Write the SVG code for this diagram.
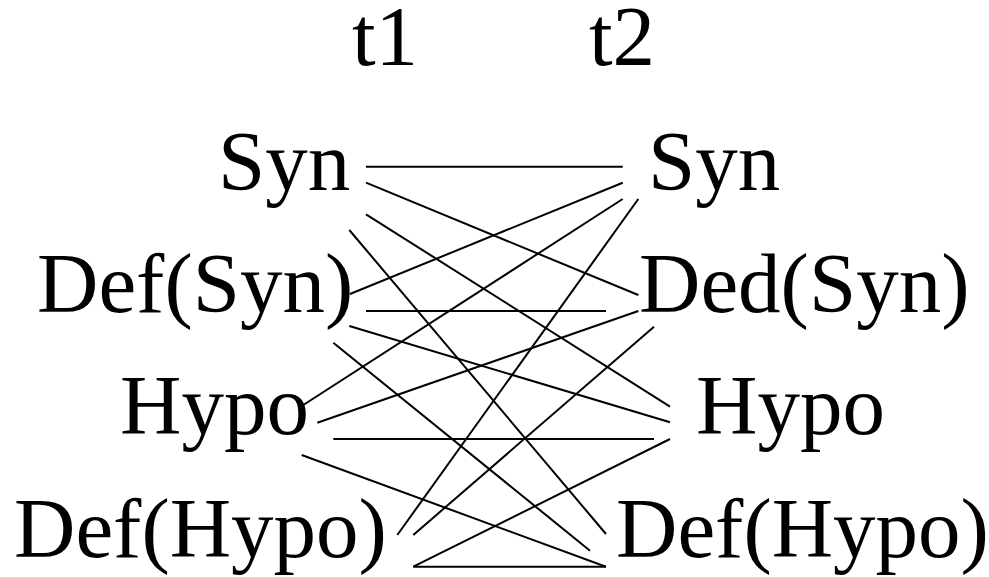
<svg xmlns="http://www.w3.org/2000/svg" width="989" height="577" viewBox="0 0 989 577">
<style>
text{font-family:"Liberation Serif","Times New Roman",serif;font-size:85px;fill:#000}
.c line{stroke:#000;stroke-width:2}
</style>
<rect width="989" height="577" fill="#fff"/>
<g id="header">
<text x="352" y="65">t1</text>
<text x="589" y="65">t2</text>
</g>
<g id="t1-syn"><text x="218" y="190">Syn</text></g>
<g id="t1-defsyn"><text x="37" y="312">Def(Syn)</text></g>
<g id="t1-hypo"><text x="120" y="434">Hypo</text></g>
<g id="t1-defhypo"><text x="14" y="557">Def(Hypo)</text></g>
<g id="t2-syn"><text x="648" y="190">Syn</text></g>
<g id="t2-dedsyn"><text x="639" y="312">Ded(Syn)</text></g>
<g id="t2-hypo"><text x="696" y="434">Hypo</text></g>
<g id="t2-defhypo"><text x="616" y="557">Def(Hypo)</text></g>
<g id="connectors" class="c">
<line x1="366" y1="166.7" x2="622.7" y2="166.7"/>
<line x1="366" y1="182.7" x2="638.3" y2="295"/>
<line x1="366" y1="214.3" x2="670" y2="406.7"/>
<line x1="349.3" y1="230" x2="606" y2="534"/>
<line x1="350" y1="294" x2="622.7" y2="182.7"/>
<line x1="366" y1="311" x2="606" y2="311"/>
<line x1="349.3" y1="326" x2="670" y2="422.3"/>
<line x1="333.3" y1="342.7" x2="590" y2="550.7"/>
<line x1="303.3" y1="405" x2="622.7" y2="199"/>
<line x1="317.3" y1="422.7" x2="638.3" y2="311"/>
<line x1="333.3" y1="439" x2="654" y2="439"/>
<line x1="301.7" y1="455" x2="606" y2="566.7"/>
<line x1="397.3" y1="535" x2="638.3" y2="199"/>
<line x1="413.3" y1="535" x2="654" y2="326.7"/>
<line x1="413.3" y1="566.7" x2="670" y2="439"/>
<line x1="413.3" y1="566.7" x2="606" y2="566.7"/>
</g>
</svg>
